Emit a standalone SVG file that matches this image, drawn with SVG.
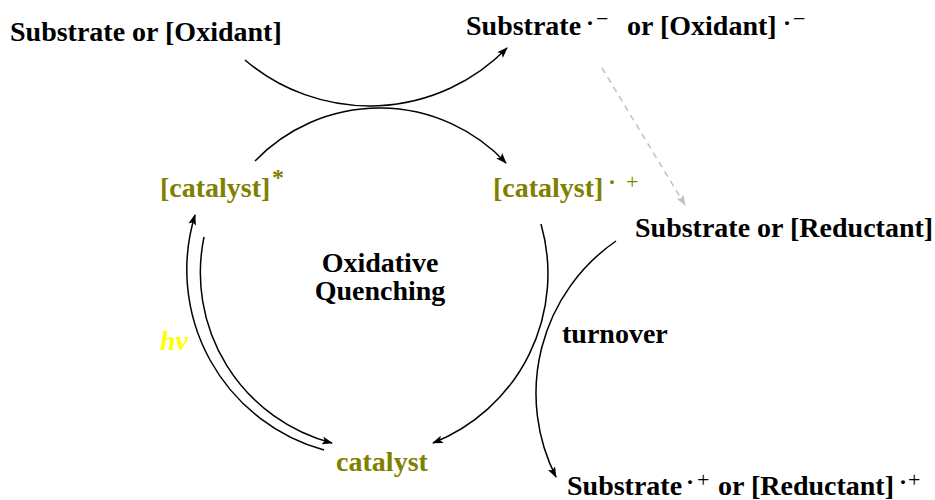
<svg xmlns="http://www.w3.org/2000/svg" width="935" height="500" viewBox="0 0 935 500">
<style>
text { font-family: "Liberation Serif", "Times New Roman", serif; }
.t { font-size: 28px; font-weight: bold; fill: #000; }
.olive { fill: #808000; }
.sup { font-size: 22px; font-weight: normal; }
.dot { font-size: 24px; font-weight: bold; }
.hv { font-size: 28px; font-weight: bold; font-style: italic; fill: #ffff00; }
.c { fill: none; stroke: #000; stroke-width: 1.5; marker-end: url(#ah); }
.cd { fill: none; stroke: #c0c0c0; stroke-width: 1.5; stroke-dasharray: 6 5; marker-end: url(#ahg); }
</style>
<defs>
<marker id="ah" viewBox="0 0 11 8" refX="10" refY="4" markerWidth="11" markerHeight="8" markerUnits="userSpaceOnUse" orient="auto">
<path d="M0,0 L11,4 L0,8 L2.5,4 z" fill="#000"/>
</marker>
<marker id="ahg" viewBox="0 0 11 8" refX="10" refY="4" markerWidth="11" markerHeight="8" markerUnits="userSpaceOnUse" orient="auto">
<path d="M0,0 L11,4 L0,8 L2.5,4 z" fill="#c0c0c0"/>
</marker>
</defs>
<g id="connectors">
<path id="e-ox" class="c" d="M245,60 A192,192 0 0 0 507,48"/>
<path id="e-quench" class="c" d="M255,161 A173,173 0 0 1 506,163"/>
<path id="e-hv" class="c" d="M324,450 A187,187 0 0 1 195,215"/>
<path id="e-decay" class="c" d="M204,237 A176,176 0 0 0 332,443"/>
<path id="e-red" class="c" d="M541,224 A182,182 0 0 1 433,443"/>
<path id="e-turnover" class="c" d="M616,241 A185,185 0 0 0 556,477"/>
<path id="e-dash" class="cd" d="M602,68 L685,205"/>
</g>
<g id="n-sub-ox">
<text class="t" x="10" y="41">Substrate or [Oxidant]</text>
</g>
<g id="n-sub-ox-rad">
<text class="t" x="466" y="35">Substrate<tspan class="dot" x="586" y="31">·</tspan><tspan class="sup" x="596" y="26">−</tspan><tspan x="627" y="35">or [Oxidant]</tspan><tspan class="dot" x="783" y="31">·</tspan><tspan class="sup" x="793" y="26">−</tspan></text>
</g>
<g id="n-cat-star">
<text class="t olive" x="160" y="197">[catalyst]</text>
<text class="t olive" x="272" y="185" style="font-size:24px">*</text>
</g>
<g id="n-cat-rad">
<text class="t olive" x="493" y="197">[catalyst]<tspan class="dot" x="608" y="190">·</tspan><tspan class="sup" x="626" y="189">+</tspan></text>
</g>
<g id="n-sub-red">
<text class="t" x="635" y="237">Substrate or [Reductant]</text>
</g>
<g id="n-cycle-label">
<text class="t" x="380" y="272" text-anchor="middle">Oxidative</text>
<text class="t" x="380" y="300" text-anchor="middle">Quenching</text>
</g>
<g id="n-hv">
<text class="hv" x="160" y="350">hv</text>
</g>
<g id="n-turnover">
<text class="t" x="562" y="343">turnover</text>
</g>
<g id="n-catalyst">
<text class="t olive" x="382" y="471" text-anchor="middle">catalyst</text>
</g>
<g id="n-sub-red-rad">
<text class="t" x="567" y="495">Substrate<tspan class="dot" x="686" y="490">·</tspan><tspan class="sup" x="697" y="487">+</tspan><tspan x="718" y="495">or [Reductant]</tspan><tspan class="dot" x="899" y="490">·</tspan><tspan class="sup" x="908" y="487">+</tspan></text>
</g>
</svg>
